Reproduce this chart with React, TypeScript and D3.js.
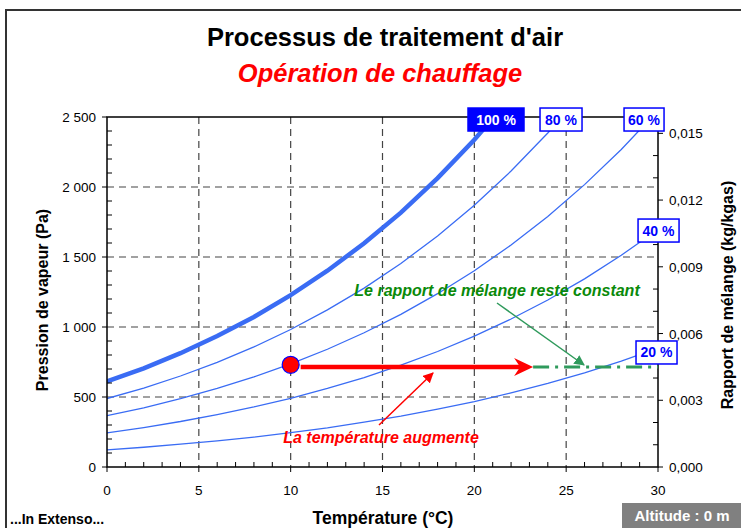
import React from "react";
import * as d3 from "d3";

const temps = [0, 2, 4, 6, 8, 10, 12, 14, 16, 18, 20, 22, 24, 26, 28, 30];
const rh100 = [611, 705, 813, 935, 1072, 1228, 1402, 1598, 1817, 2063, 2337, 2643, 2983, 3361, 3780, 4243];
const rh80 = [489, 564, 650, 748, 858, 982, 1122, 1278, 1454, 1650, 1870, 2114, 2386, 2689, 3024, 3394];
const rh60 = [367, 423, 488, 561, 643, 737, 841, 959, 1090, 1238, 1402, 1586, 1790, 2017, 2268, 2546];
const rh40 = [244, 282, 325, 374, 429, 491, 561, 639, 727, 825, 935, 1057, 1193, 1344, 1512, 1697];
const rh20 = [122, 141, 163, 187, 214, 246, 280, 320, 363, 413, 467, 529, 597, 672, 756, 849];
const curveLabels = ["100 %", "80 %", "60 %", "40 %", "20 %"];
const xTicks = [0, 5, 10, 15, 20, 25, 30];
const yTicks = [0, 500, 1000, 1500, 2000, 2500];
const y2Ticks = [0, 0.003, 0.006, 0.009, 0.012, 0.015];
const startState = { t: 10, p: 730 };
const heatEnd = { t: 23.2, p: 715 };

const W = 741, H = 528;
const X0 = 107, X1 = 658, Y0 = 467, Y1 = 117;

export default function App() {
  const x = d3.scaleLinear().domain([0, 30]).range([X0, X1]);
  const y = d3.scaleLinear().domain([0, 2500]).range([Y0, Y1]);
  const y2 = d3.scaleLinear().domain([0, 0.622 * 2500 / (101325 - 2500)]).range([Y0, Y1]);
  const line = d3.line<number>().x((_, i) => x(temps[i])).y((d) => y(d));
  const series = [rh100, rh80, rh60, rh40, rh20];
  const labelPos = [
    { t: 21.18, p: 2482, w: 56 },
    { t: 24.72, p: 2482, w: 42 },
    { t: 29.24, p: 2482, w: 40 },
    { t: 30.03, p: 1689, w: 41 },
    { t: 29.92, p: 818, w: 41 },
  ];
  const blue = "#3a6cf4";
  const fmtY = (v: number) => (v >= 1000 ? d3.format(",")(v).replace(",", " ") : String(v));
  const fmtY2 = (v: number) => v.toFixed(3).replace(".", ",");
  const minorX = d3.range(0, 31, 1);
  const minorY = d3.range(0, 2501, 100);
  const minorY2 = d3.range(0, 0.0156, 0.001);
  const font = "'Liberation Sans', Arial, sans-serif";
  const tipX = x(heatEnd.t);
  const ay = y(heatEnd.p);

  return (
    <svg width={W} height={H} style={{ position: "absolute", left: 0, top: 0 }} fontFamily={font}>
      <defs>
        <clipPath id="plot">
          <rect x={X0} y={Y1} width={X1 - X0} height={Y0 - Y1} />
        </clipPath>
        <marker id="gArrow" viewBox="0 0 10 10" refX="9" refY="5" markerWidth="7" markerHeight="7" orient="auto">
          <path d="M0,0 L10,5 L0,10 z" fill="#2f9a5c" />
        </marker>
        <marker id="rArrow" viewBox="0 0 10 10" refX="9" refY="5" markerWidth="7" markerHeight="7" orient="auto">
          <path d="M0,0 L10,5 L0,10 z" fill="#ff0000" />
        </marker>
      </defs>
      <rect x={0} y={0} width={W} height={H} fill="#fff" />
      <rect x={6} y={10} width={900} height={700} fill="none" stroke="#333" strokeWidth={2} />

      <text x={385} y={46} textAnchor="middle" fontSize={25.5} fontWeight="bold" fill="#000">
        Processus de traitement d'air
      </text>
      <text x={380} y={82} textAnchor="middle" fontSize={25.5} fontWeight="bold" fontStyle="italic" fill="#ff0000">
        Opération de chauffage
      </text>

      {/* grid */}
      {xTicks.filter((t) => t > 0 && t < 30).map((t) => (
        <line key={"gx" + t} x1={x(t)} x2={x(t)} y1={Y1} y2={Y0} stroke="#444" strokeDasharray="7,5" strokeWidth={1.2} />
      ))}
      {yTicks.filter((t) => t > 0 && t < 2500).map((t) => (
        <line key={"gy" + t} x1={X0} x2={X1} y1={y(t)} y2={y(t)} stroke="#444" strokeDasharray="7,5" strokeWidth={1.2} />
      ))}

      {/* curves */}
      <g clipPath="url(#plot)">
        {series.map((s, i) => (
          <path key={"c" + i} d={line(s) || ""} fill="none" stroke={blue} strokeWidth={i === 0 ? 4.5 : 1.3} />
        ))}
      </g>

      {/* axes frame */}
      <rect x={X0} y={Y1} width={X1 - X0} height={Y0 - Y1} fill="none" stroke="#000" strokeWidth={1.5} />
      {minorX.map((t) => (
        <line key={"mx" + t} x1={x(t)} x2={x(t)} y1={Y0} y2={t % 5 === 0 ? Y0 + 5 : Y0 - 5} stroke="#000" strokeWidth={1} />
      ))}
      {minorY.map((t) => (
        <line key={"my" + t} x1={X0} x2={t % 500 === 0 ? X0 - 5 : X0 + 5} y1={y(t)} y2={y(t)} stroke="#000" strokeWidth={1} />
      ))}
      {minorY2.map((t, i) => (
        <line key={"my2" + i} x1={X1} x2={i % 3 === 0 ? X1 + 5 : X1 - 5} y1={y2(t)} y2={y2(t)} stroke="#000" strokeWidth={1} />
      ))}

      {xTicks.map((t) => (
        <text key={"xt" + t} x={x(t)} y={495} textAnchor="middle" fontSize={13.5} fill="#000">{t}</text>
      ))}
      {yTicks.map((t) => (
        <text key={"yt" + t} x={96} y={y(t) + 5} textAnchor="end" fontSize={13.5} fill="#000">{fmtY(t)}</text>
      ))}
      {y2Ticks.map((t) => (
        <text key={"y2t" + t} x={669} y={y2(t) + 5} textAnchor="start" fontSize={13.5} fill="#000">{fmtY2(t)}</text>
      ))}

      <text transform={`translate(48,300) rotate(-90)`} textAnchor="middle" fontSize={16} fontWeight="bold" fill="#000">
        Pression de vapeur (Pa)
      </text>
      <text transform={`translate(733,295) rotate(-90)`} textAnchor="middle" fontSize={16} fontWeight="bold" fill="#000">
        Rapport de mélange (kg/kgas)
      </text>
      <text x={383} y={524} textAnchor="middle" fontSize={17.5} fontWeight="bold" fill="#000">Température (°C)</text>
      <text x={10} y={524} fontSize={14} fontWeight="bold" fill="#000">...In Extenso...</text>
      <rect x={622} y={503} width={130} height={30} fill="#808080" />
      <text x={682} y={521} textAnchor="middle" fontSize={15} fontWeight="bold" fill="#fff">Altitude : 0 m</text>

      {/* curve labels */}
      {labelPos.map((l, i) => (
        <g key={"l" + i}>
          <rect x={x(l.t) - l.w / 2} y={y(l.p) - 11.5} width={l.w} height={23} fill={i === 0 ? "#0000ff" : "#fff"} stroke="#0000ff" strokeWidth={1.5} />
          <text x={x(l.t)} y={y(l.p) + 5} textAnchor="middle" fontSize={14} fontWeight="bold" fill={i === 0 ? "#fff" : "#0000ff"}>
            {curveLabels[i]}
          </text>
        </g>
      ))}

      {/* process */}
      <line x1={tipX} x2={X1} y1={ay} y2={ay} stroke="#2f9a5c" strokeWidth={3} strokeDasharray="16,6,3,6" />
      <line x1={x(startState.t) + 10} x2={tipX - 12} y1={ay} y2={ay} stroke="#ff0000" strokeWidth={4.5} />
      <path d={`M${tipX},${ay} L${tipX - 19},${ay - 9} L${tipX - 13},${ay} L${tipX - 19},${ay + 9} Z`} fill="#ff0000" />
      <circle cx={x(startState.t)} cy={y(startState.p)} r={8.5} fill="#ff0000" stroke="#0000ff" strokeWidth={1.2} />

      <text x={497} y={296} textAnchor="middle" fontSize={16} fontWeight="bold" fontStyle="italic" fill="#0a8a0a">
        Le rapport de mélange reste constant
      </text>
      <line x1={497} y1={303} x2={584} y2={365} stroke="#2f9a5c" strokeWidth={1.5} markerEnd="url(#gArrow)" />

      <text x={381} y={443} textAnchor="middle" fontSize={16} fontWeight="bold" fontStyle="italic" fill="#ff0000">
        La température augmente
      </text>
      <line x1={379} y1={425} x2={433} y2={373} stroke="#ff0000" strokeWidth={1.5} markerEnd="url(#rArrow)" />
    </svg>
  );
}
